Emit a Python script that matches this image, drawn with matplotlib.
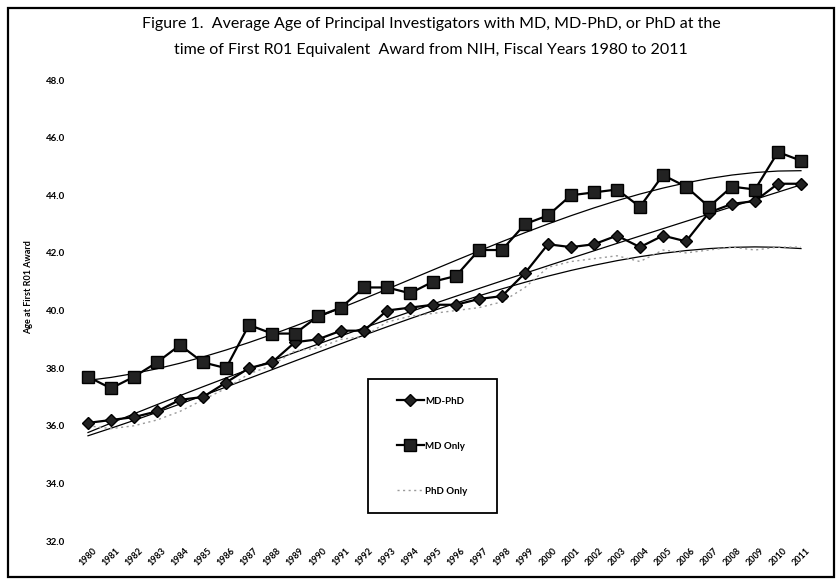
import numpy as np
import matplotlib
matplotlib.use("Agg")
import matplotlib.pyplot as plt
from matplotlib.patches import Rectangle

plt.rcParams['font.family'] = ['Lato', 'DejaVu Sans']

# fiscal years 1980-2011
years = list(range(1980, 2012))
year_labels = [str(y) for y in years]

# average age at first R01 equivalent award
md_phd = [36.1, 36.2, 36.3, 36.5, 36.9, 37.0, 37.5, 38.0, 38.2, 38.9,
          39.0, 39.3, 39.3, 40.0, 40.1, 40.2, 40.2, 40.4, 40.5, 41.3,
          42.3, 42.2, 42.3, 42.6, 42.2, 42.6, 42.4, 43.4, 43.7, 43.8,
          44.4, 44.4]
md_only = [37.7, 37.3, 37.7, 38.2, 38.8, 38.2, 38.0, 39.5, 39.2, 39.2,
           39.8, 40.1, 40.8, 40.8, 40.6, 41.0, 41.2, 42.1, 42.1, 43.0,
           43.3, 44.0, 44.1, 44.2, 43.6, 44.7, 44.3, 43.6, 44.3, 44.2,
           45.5, 45.2]
phd_only = [36.0, 35.9, 36.0, 36.2, 36.5, 36.9, 37.3, 37.8, 38.1, 38.6,
            38.7, 39.0, 39.1, 39.6, 39.8, 39.9, 40.0, 40.1, 40.3, 40.8,
            41.5, 41.7, 41.8, 41.9, 41.7, 42.1, 42.0, 42.1, 42.2, 42.1,
            42.2, 42.2]

x = np.arange(len(years))

fig = plt.figure(figsize=(8.37, 5.79), dpi=100)
ax = fig.add_axes([0.0914, 0.0656, 0.8793, 0.7962])

# data series
ax.plot(x, md_phd, color='black', lw=1.6, marker='D', ms=6, mfc='#222222', mec='black', label='MD-PhD', zorder=4)
ax.plot(x, md_only, color='black', lw=1.6, marker='s', ms=8.5, mfc='#222222', mec='black', label='MD Only', zorder=4)
ax.plot(x, phd_only, color='#9a9a9a', lw=1.0, ls=(0, (1.5, 2.5)), label='PhD Only', zorder=3)

# polynomial trend lines (like the Excel trendlines)
for series in [md_phd, md_only, phd_only]:
    coef = np.polyfit(x, series, 3)
    ax.plot(x, np.polyval(coef, x), color='black', lw=0.9, zorder=2)

ax.set_xlim(-0.5, len(years) - 0.5)
ax.set_ylim(32, 48)
ax.set_yticks(np.arange(32, 48.1, 2))
ax.set_yticklabels(['%.1f' % v for v in np.arange(32, 48.1, 2)], fontsize=7, fontweight='bold')
ax.set_xticks(x)
ax.set_xticklabels(year_labels, rotation=45, ha='center', va='top', fontsize=6.5, fontweight='bold')
ax.tick_params(axis='y', length=0, pad=8)
ax.tick_params(axis='x', length=0, pad=4)
for s in ax.spines.values():
    s.set_visible(False)

ax.set_ylabel('Age at First R01 Award', fontsize=6.5, fontweight='bold')
ax.yaxis.set_label_coords(-0.059, 0.551)

# legend without frame, box drawn separately
leg = ax.legend(loc='center', bbox_to_anchor=(0.4837, 0.206), fontsize=7, frameon=False,
                labelspacing=3.7, handlelength=2.7, borderpad=0, handletextpad=0.2)
for t in leg.get_texts():
    t.set_fontweight('bold')
ax.add_patch(Rectangle((0.396, 0.0607), 0.1753, 0.2907, transform=ax.transAxes,
                       fill=False, edgecolor='black', lw=1.3, zorder=5))

fig.text(0.515, 0.958, 'Figure 1.  Average Age of Principal Investigators with MD, MD-PhD, or PhD at the',
         ha='center', va='center', fontsize=11.5)
fig.text(0.515, 0.914, 'time of First R01 Equivalent  Award from NIH, Fiscal Years 1980 to 2011',
         ha='center', va='center', fontsize=11.5)

# chart area border
fig.patches.append(Rectangle((0.010, 0.004), 0.987, 0.982, transform=fig.transFigure,
                             fill=False, edgecolor='black', lw=1.6))

fig.savefig('out.png', dpi=100)
